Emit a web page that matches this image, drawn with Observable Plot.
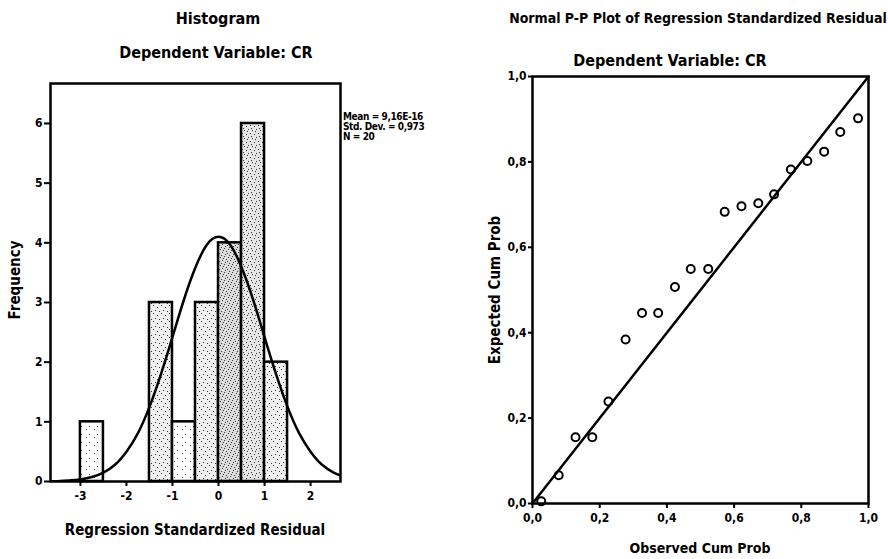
<!DOCTYPE html>
<html>
<head>
<meta charset="utf-8">
<script src="https://cdn.jsdelivr.net/npm/d3@7"></script>
<script src="https://cdn.jsdelivr.net/npm/@observablehq/plot@0.6"></script>
<style>
  html, body { margin: 0; padding: 0; background: #fff; }
  #wrap { position: relative; width: 888px; height: 559px; overflow: hidden;
    font-family: "DejaVu Sans Condensed", "Liberation Sans Narrow", "Liberation Sans", sans-serif; font-weight: bold; color: #000; }
  #wrap svg { position: absolute; left: 0; top: 0; }
  .t { position: absolute; white-space: nowrap; transform: translate(-50%, -50%); }
  .rot { transform: translate(-50%, -50%) rotate(-90deg); }
  .leg { position: absolute; left: 343px; top: 112px; font-size: 10px; line-height: 10px; letter-spacing: -0.4px; }
</style>
</head>
<body>
<div id="wrap"></div>
<script>
// ---- Histogram data ----
const binStart = [-3.0, -1.5, -1.0, -0.5, 0.0, 0.5, 1.0];
const binEnd   = [-2.5, -1.0, -0.5,  0.0, 0.5, 1.0, 1.5];
const counts   = [1, 3, 1, 3, 4, 6, 2];
const binTexture = ["url(#stipA)", "url(#stipB)", "url(#stipA)", "url(#stipB)", "url(#stipD)", "url(#stipC)", "url(#stipB)"];
// normal curve
const curveX = [-3.65, -3.5, -3.25, -3.0, -2.75, -2.5, -2.25, -2.0, -1.75, -1.5, -1.25, -1.0, -0.75, -0.5, -0.25, 0.0, 0.25, 0.5, 0.75, 1.0, 1.25, 1.5, 1.75, 2.0, 2.25, 2.5, 2.65];
const curveY = [0.003, 0.006, 0.016, 0.035, 0.075, 0.15, 0.28, 0.50, 0.81, 1.25, 1.80, 2.42, 3.05, 3.59, 3.97, 4.10, 3.97, 3.59, 3.05, 2.42, 1.80, 1.25, 0.81, 0.50, 0.28, 0.15, 0.10];
const histXTicks = [-3, -2, -1, 0, 1, 2];
const histYTicks = [0, 1, 2, 3, 4, 5, 6];
const legendLines = ["Mean = 9,16E-16", "Std. Dev. = 0,973", "N = 20"];

// ---- P-P plot data ----
const observed = [0.026, 0.078, 0.128, 0.178, 0.226, 0.277, 0.326, 0.374, 0.424, 0.471, 0.523, 0.572, 0.622, 0.672, 0.719, 0.769, 0.818, 0.868, 0.916, 0.969];
const expected = [0.005, 0.066, 0.155, 0.155, 0.239, 0.384, 0.446, 0.446, 0.507, 0.549, 0.549, 0.683, 0.696, 0.703, 0.724, 0.782, 0.802, 0.824, 0.870, 0.902];
const refLineX = [0, 1];
const refLineY = [0, 1];
const ppTicks = [0, 0.2, 0.4, 0.6, 0.8, 1.0];

const bins = binStart.map((s, i) => ({x1: s, x2: binEnd[i], y: counts[i], fill: binTexture[i]}));
const curve = curveX.map((x, i) => ({x, y: curveY[i]}));
const pts = observed.map((o, i) => ({x: o, y: expected[i]}));
const diag = refLineX.map((x, i) => ({x, y: refLineY[i]}));

const font = '"DejaVu Sans Condensed", "Liberation Sans Narrow", "Liberation Sans", sans-serif';
const commaFmt = d => d.toFixed(1).replace(".", ",");

const hist = Plot.plot({
  width: 888, height: 559,
  marginLeft: 50, marginRight: 548, marginTop: 83, marginBottom: 78,
  style: {fontFamily: font, fontWeight: "bold", fontSize: "12px", background: "transparent", overflow: "visible"},
  x: {domain: [-3.65, 2.65]},
  y: {domain: [0, 6.67]},
  color: {type: "identity"},
  marks: [
    Plot.rectY(bins, {x1: "x1", x2: "x2", y: "y", fill: "fill", stroke: "black", strokeWidth: 2.5, inset: 0}),
    Plot.line(curve, {x: "x", y: "y", stroke: "black", strokeWidth: 2.5, curve: "natural", clip: true}),
    Plot.frame({stroke: "black", strokeWidth: 2.5}),
    Plot.axisX({ticks: histXTicks, tickFormat: d => String(d), tickSize: 5, tickPadding: 5, label: null, strokeWidth: 2}),
    Plot.axisY({ticks: histYTicks, tickFormat: d => String(d), tickSize: 6, tickPadding: 2, label: null, strokeWidth: 2})
  ]
});

// stipple textures (fixed dot tiles)
const tiles = {
  stipA: {bg: "#fbfbfb", dots: [[1,2],[6,5]]},
  stipB: {bg: "#f0f0f0", dots: [[1,1],[5,3],[3,6],[7,7]]},
  stipC: {bg: "#e6e6e6", dots: [[0,1],[4,2],[2,5],[6,6],[7,3],[3,0]]},
  stipD: {bg: "#dcdcdc", dots: [[0,0],[4,1],[2,3],[6,4],[1,6],[5,7],[7,2],[3,5]]}
};
const ns = "http://www.w3.org/2000/svg";
const defs = document.createElementNS(ns, "defs");
for (const [id, t] of Object.entries(tiles)) {
  const p = document.createElementNS(ns, "pattern");
  p.setAttribute("id", id); p.setAttribute("width", 8); p.setAttribute("height", 8);
  p.setAttribute("patternUnits", "userSpaceOnUse");
  const bg = document.createElementNS(ns, "rect");
  bg.setAttribute("width", 8); bg.setAttribute("height", 8); bg.setAttribute("fill", t.bg);
  p.appendChild(bg);
  for (const [dx, dy] of t.dots) {
    const r = document.createElementNS(ns, "rect");
    r.setAttribute("x", dx); r.setAttribute("y", dy); r.setAttribute("width", 1); r.setAttribute("height", 1);
    r.setAttribute("fill", "#333");
    p.appendChild(r);
  }
  defs.appendChild(p);
}
hist.insertBefore(defs, hist.firstChild);

const pp = Plot.plot({
  width: 888, height: 559,
  marginLeft: 532, marginRight: 20, marginTop: 76, marginBottom: 56,
  style: {fontFamily: font, fontWeight: "bold", fontSize: "12px", background: "transparent", overflow: "visible"},
  x: {domain: [0, 1]},
  y: {domain: [0, 1]},
  marks: [
    Plot.line(diag, {x: "x", y: "y", stroke: "black", strokeWidth: 2.5}),
    Plot.dot(pts, {x: "x", y: "y", r: 4, stroke: "black", strokeWidth: 2, fill: "none"}),
    Plot.frame({stroke: "black", strokeWidth: 2.5}),
    Plot.axisX({ticks: ppTicks, tickFormat: commaFmt, tickSize: 5, tickPadding: 5, label: null, strokeWidth: 2}),
    Plot.axisY({ticks: ppTicks, tickFormat: commaFmt, tickSize: 4, tickPadding: 2, label: null, strokeWidth: 2})
  ]
});

const wrap = document.getElementById("wrap");
wrap.appendChild(hist);
wrap.appendChild(pp);

function addText(txt, x, y, size, rot) {
  const d = document.createElement("div");
  d.className = "t" + (rot ? " rot" : "");
  d.style.left = x + "px";
  d.style.top = y + "px";
  d.style.fontSize = size + "px";
  d.textContent = txt;
  wrap.appendChild(d);
}
addText("Histogram", 218, 18, 16);
addText("Dependent Variable: CR", 216, 52, 16);
addText("Frequency", 15, 280, 15, true);
addText("Regression Standardized Residual", 195, 530, 15);
addText("Normal P-P Plot of Regression Standardized Residual", 698, 18, 14);
addText("Dependent Variable: CR", 670, 60, 16);
addText("Expected Cum Prob", 495, 290, 15, true);
addText("Observed Cum Prob", 700, 548, 14);

const leg = document.createElement("div");
leg.className = "leg";
legendLines.forEach(l => { const s = document.createElement("div"); s.textContent = l; leg.appendChild(s); });
wrap.appendChild(leg);
</script>
</body>
</html>
